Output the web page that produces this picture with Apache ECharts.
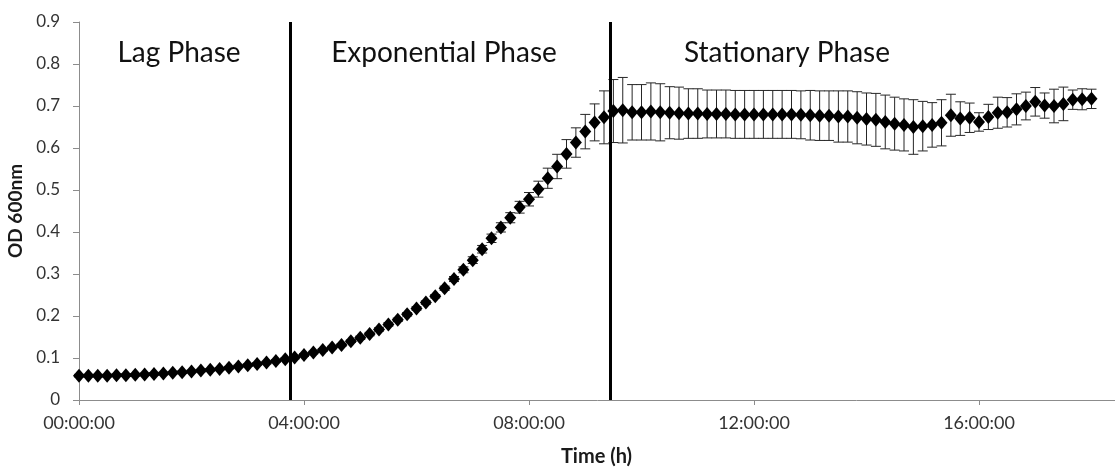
<!DOCTYPE html>
<html>
<head>
<meta charset="utf-8">
<script src="https://cdn.jsdelivr.net/npm/echarts@6/dist/echarts.min.js"></script>
<style>
html,body{margin:0;padding:0;background:#fff;}
#chart{width:1115px;height:468px;}
</style>
</head>
<body>
<div id="chart"></div>
<script>
// Sampling: one reading every 10 minutes, from 00:00 to 18:00
const sampleMinutes = 10;

// Mean OD 600nm readings
const odMean = [
  0.058, 0.058, 0.058, 0.058, 0.059, 0.059, 0.060, 0.061, 0.062, 0.063,
  0.065, 0.066, 0.068, 0.070, 0.072, 0.074, 0.077, 0.080, 0.083, 0.086,
  0.089, 0.093, 0.097, 0.101, 0.107, 0.113, 0.119, 0.125, 0.131, 0.140,
  0.148, 0.157, 0.168, 0.180, 0.191, 0.204, 0.218, 0.232, 0.247, 0.266,
  0.288, 0.310, 0.333, 0.359, 0.385, 0.411, 0.434, 0.459, 0.478, 0.502,
  0.528, 0.556, 0.586, 0.613, 0.639, 0.661, 0.673, 0.688, 0.690, 0.685,
  0.685, 0.687, 0.685, 0.684, 0.683, 0.682, 0.682, 0.681, 0.681, 0.681,
  0.680, 0.680, 0.680, 0.680, 0.680, 0.680, 0.680, 0.679, 0.678, 0.677,
  0.677, 0.675, 0.675, 0.672, 0.669, 0.667, 0.662, 0.658, 0.655, 0.650,
  0.652, 0.655, 0.660, 0.678, 0.670, 0.672, 0.662, 0.674, 0.684, 0.685,
  0.692, 0.700, 0.710, 0.701, 0.700, 0.705, 0.715, 0.716, 0.717
];

// Standard deviation (error bars)
const odSd = [
  0.003, 0.003, 0.003, 0.003, 0.003, 0.003, 0.003, 0.003, 0.003, 0.003,
  0.003, 0.003, 0.003, 0.003, 0.003, 0.003, 0.003, 0.003, 0.003, 0.003,
  0.003, 0.003, 0.003, 0.003, 0.003, 0.003, 0.003, 0.003, 0.003, 0.003,
  0.004, 0.004, 0.004, 0.004, 0.004, 0.004, 0.004, 0.004, 0.004, 0.005,
  0.006, 0.007, 0.008, 0.009, 0.010, 0.011, 0.012, 0.014, 0.016, 0.019,
  0.024, 0.029, 0.034, 0.035, 0.041, 0.044, 0.063, 0.075, 0.078, 0.066,
  0.066, 0.068, 0.068, 0.062, 0.062, 0.059, 0.059, 0.057, 0.057, 0.057,
  0.057, 0.057, 0.057, 0.057, 0.057, 0.057, 0.057, 0.057, 0.059, 0.059,
  0.059, 0.061, 0.061, 0.062, 0.062, 0.063, 0.064, 0.063, 0.062, 0.065,
  0.059, 0.053, 0.055, 0.050, 0.040, 0.035, 0.022, 0.030, 0.037, 0.035,
  0.037, 0.033, 0.034, 0.030, 0.040, 0.040, 0.023, 0.025, 0.023
];

// Phase boundaries (hours) and labels
const phaseBoundaries = [3.76, 9.45];
const phaseLabels = ['Lag Phase', 'Exponential Phase', 'Stationary Phase'];
const yTicks = [0, 0.1, 0.2, 0.3, 0.4, 0.5, 0.6, 0.7, 0.8, 0.9];

const hours = odMean.map((_, i) => i * sampleMinutes / 60);
const points = odMean.map((v, i) => [hours[i], v]);
const errs = odMean.map((v, i) => [hours[i], v - odSd[i], v + odSd[i]]);

const FONT = 'Lato, "Open Sans", sans-serif';
const chart = echarts.init(document.getElementById('chart'), null, {renderer: 'canvas'});

const pad = n => (n < 10 ? '0' : '') + n;
const phaseFont = '28px ' + FONT;

chart.setOption({
  animation: false,
  backgroundColor: '#ffffff',
  grid: {left: 79, top: 22, bottom: 68, width: 1125, containLabel: false, outerBoundsMode: 'none'},
  xAxis: {
    type: 'value', min: 0, max: 20, interval: 4,
    name: 'Time (h)', nameLocation: 'middle', nameGap: 47,
    nameTextStyle: {fontFamily: FONT, fontWeight: 'bold', fontSize: 20, color: '#1a1a1a', padding: [0, 90, 0, 0]},
    axisLine: {show: true, lineStyle: {color: '#8c8c8c', width: 1}},
    axisTick: {show: true, length: 5, lineStyle: {color: '#8c8c8c'}},
    splitLine: {show: false},
    axisLabel: {
      fontFamily: FONT, fontSize: 18, color: '#333', margin: 14,
      formatter: v => pad(Math.round(v)) + ':00:00'
    }
  },
  yAxis: {
    type: 'value', min: yTicks[0], max: yTicks[yTicks.length - 1], interval: 0.1,
    name: 'OD 600nm', nameLocation: 'middle', nameGap: 52, nameRotate: 90,
    nameTextStyle: {fontFamily: FONT, fontWeight: 'bold', fontSize: 19, color: '#1a1a1a'},
    axisLine: {show: true, lineStyle: {color: '#8c8c8c', width: 1}},
    axisTick: {show: true, length: 6, lineStyle: {color: '#8c8c8c'}},
    splitLine: {show: false},
    axisLabel: {
      fontFamily: FONT, fontSize: 17, color: '#333', margin: 19,
      formatter: v => String(Math.round(v * 10) / 10)
    }
  },
  graphic: [
    {type: 'text', style: {text: phaseLabels[0], x: 179, y: 53, align: 'center', verticalAlign: 'middle', font: phaseFont, fill: '#111'}},
    {type: 'text', style: {text: phaseLabels[1], x: 444, y: 53, align: 'center', verticalAlign: 'middle', font: phaseFont, fill: '#111'}},
    {type: 'text', style: {text: phaseLabels[2], x: 787, y: 53, align: 'center', verticalAlign: 'middle', font: phaseFont, fill: '#111'}}
  ],
  series: [
    {
      type: 'custom',
      name: 'sd',
      z: 2,
      renderItem: function (params, api) {
        const x = api.value(0);
        const lo = api.coord([x, api.value(1)]);
        const hi = api.coord([x, api.value(2)]);
        const cap = 5;
        const st = {stroke: '#262626', lineWidth: 1};
        return {
          type: 'group',
          children: [
            {type: 'line', shape: {x1: lo[0], y1: lo[1], x2: hi[0], y2: hi[1]}, style: st},
            {type: 'line', shape: {x1: hi[0] - cap, y1: hi[1], x2: hi[0] + cap, y2: hi[1]}, style: st},
            {type: 'line', shape: {x1: lo[0] - cap, y1: lo[1], x2: lo[0] + cap, y2: lo[1]}, style: st}
          ]
        };
      },
      encode: {x: 0, y: [1, 2]},
      data: errs,
      silent: true
    },
    {
      type: 'scatter',
      name: 'OD',
      z: 3,
      symbol: 'diamond',
      symbolSize: [12, 14],
      itemStyle: {color: '#000', opacity: 1},
      data: points,
      silent: true
    },
    {
      type: 'line',
      name: 'phases',
      data: [],
      markLine: {
        silent: true,
        symbol: ['none', 'none'],
        label: {show: false},
        lineStyle: {color: '#000', width: 3, type: 'solid'},
        data: phaseBoundaries.map(b => ({xAxis: b}))
      }
    }
  ]
});
</script>
</body>
</html>
